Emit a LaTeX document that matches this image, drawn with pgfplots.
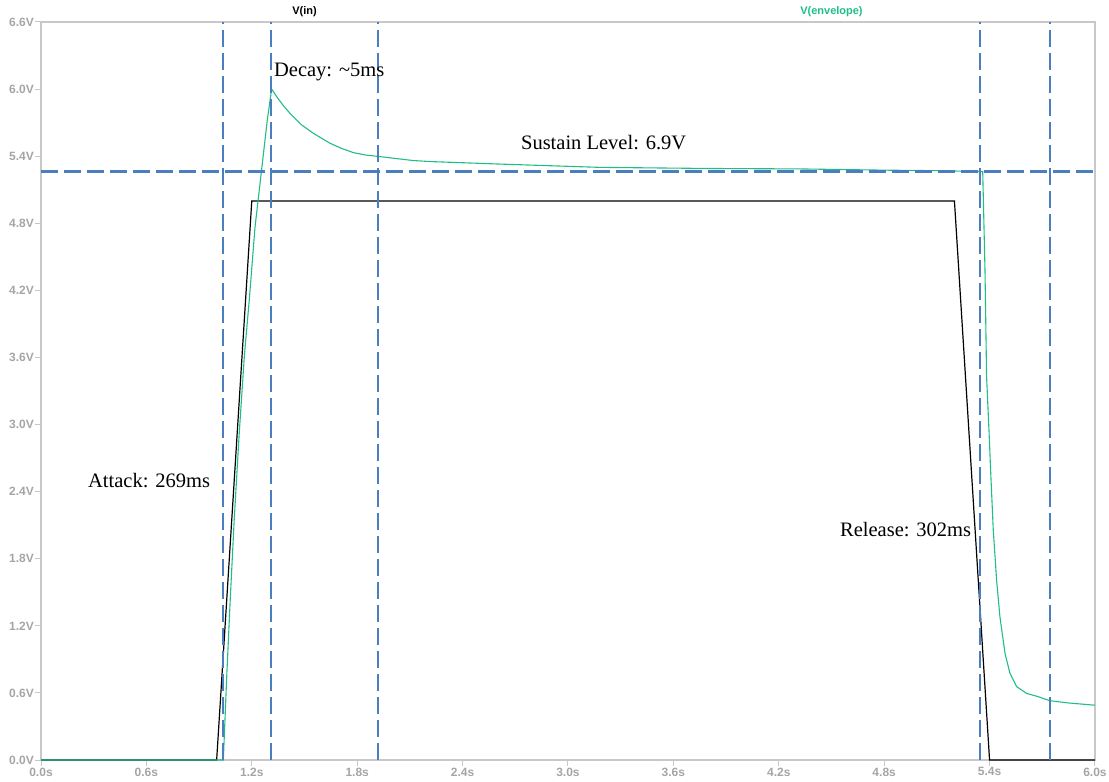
\documentclass[border=0pt]{standalone}
\usepackage{pgfplots}
\pgfplotsset{compat=1.18}
\usepackage{fontspec}
\setmainfont{Liberation Serif}
\setsansfont{Liberation Sans}

\definecolor{envgreen}{RGB}{30,190,135}
\definecolor{cursorblue}{RGB}{74,126,190}
\definecolor{framegray}{RGB}{200,200,200}
\definecolor{ticktext}{RGB}{165,165,165}

\begin{document}
\begin{tikzpicture}
\path[use as bounding box] (-41pt,-22pt) rectangle (1068pt,760pt);
\begin{axis}[
  scale only axis, width=1054pt, height=738pt,
  xmin=0, xmax=6, ymin=0, ymax=6.6,
  clip=false,
  axis line style={framegray, line width=1.2pt},
  tick style={framegray, line width=1pt},
  tick align=outside, major tick length=6pt,
  xtick pos=bottom, ytick pos=left,
  xtick={0,0.6,1.2,1.8,2.4,3.0,3.6,4.2,4.8,5.4,6.0},
  xticklabels={0.0s,0.6s,1.2s,1.8s,2.4s,3.0s,3.6s,4.2s,4.8s,5.4s,6.0s},
  ytick={0,0.6,1.2,1.8,2.4,3.0,3.6,4.2,4.8,5.4,6.0,6.6},
  yticklabels={0.0V,0.6V,1.2V,1.8V,2.4V,3.0V,3.6V,4.2V,4.8V,5.4V,6.0V,6.6V},
  ticklabel style={font=\sffamily\bfseries\fontsize{12}{13}\selectfont, text=ticktext},
  yticklabel style={inner sep=1pt},
  xticklabel style={inner sep=1.5pt},
]

% input pulse V(in)
\addplot[black, line width=1.2pt] coordinates {
  (0,0) (1.0,0) (1.2,5.0) (5.2,5.0) (5.4,0) (6.0,0)
};

% envelope follower output V(envelope)
\addplot[envgreen, line width=1.1pt] coordinates {
  (0,0) (1.038,0) (1.058,0.77) (1.078,1.46) (1.100,2.15) (1.128,2.91)
  (1.158,3.62) (1.186,4.12) (1.218,4.76) (1.256,5.28) (1.288,5.72) (1.313,6.0)
  (1.350,5.914) (1.380,5.852) (1.417,5.784) (1.480,5.684) (1.550,5.605)
  (1.645,5.516) (1.710,5.470) (1.778,5.432) (1.850,5.410) (1.930,5.396)
  (2.119,5.361) (2.214,5.352)
  (2.600,5.330) (3.180,5.300) (3.800,5.290) (4.320,5.286) (4.800,5.275)
  (5.120,5.270) (5.361,5.262)
  (5.374,4.38) (5.383,3.43) (5.398,2.90) (5.406,2.59) (5.421,2.06)
  (5.440,1.61) (5.459,1.28) (5.488,0.954) (5.516,0.775) (5.554,0.656)
  (5.611,0.596) (5.677,0.566) (5.744,0.53) (5.850,0.51) (6.0,0.49)
};

% cursors
\pgfplotsset{cursor/.style={cursorblue, line width=2.8pt, dash pattern=on 17pt off 6pt}}
\addplot[cursor] coordinates {(0,5.26) (6,5.26)};
\addplot[cursor] coordinates {(1.036,0) (1.036,6.6)};
\addplot[cursor] coordinates {(1.309,0) (1.309,6.6)};
\addplot[cursor] coordinates {(1.918,0) (1.918,6.6)};
\addplot[cursor] coordinates {(5.345,0) (5.345,6.6)};
\addplot[cursor] coordinates {(5.744,0) (5.744,6.6)};

% annotations
\begin{scope}[every node/.style={anchor=base west, inner sep=0pt, font=\fontsize{20.5}{24}\selectfont}]
\node at (axis cs:0.2675,2.433) {Attack: 269ms};
\node at (axis cs:1.326,6.109) {Decay: \textasciitilde5ms};
\node at (axis cs:2.732,5.456) {Sustain Level: 6.9V};
\node at (axis cs:4.548,1.995) {Release: 302ms};
\end{scope}

% trace names
\node[font=\sffamily\bfseries\fontsize{11}{12}\selectfont, text=black]
  at (rel axis cs:0.25,1) [yshift=10pt] {V(in)};
\node[font=\sffamily\bfseries\fontsize{11}{12}\selectfont, text=envgreen]
  at (rel axis cs:0.75,1) [yshift=10pt] {V(envelope)};
\end{axis}
\end{tikzpicture}
\end{document}
